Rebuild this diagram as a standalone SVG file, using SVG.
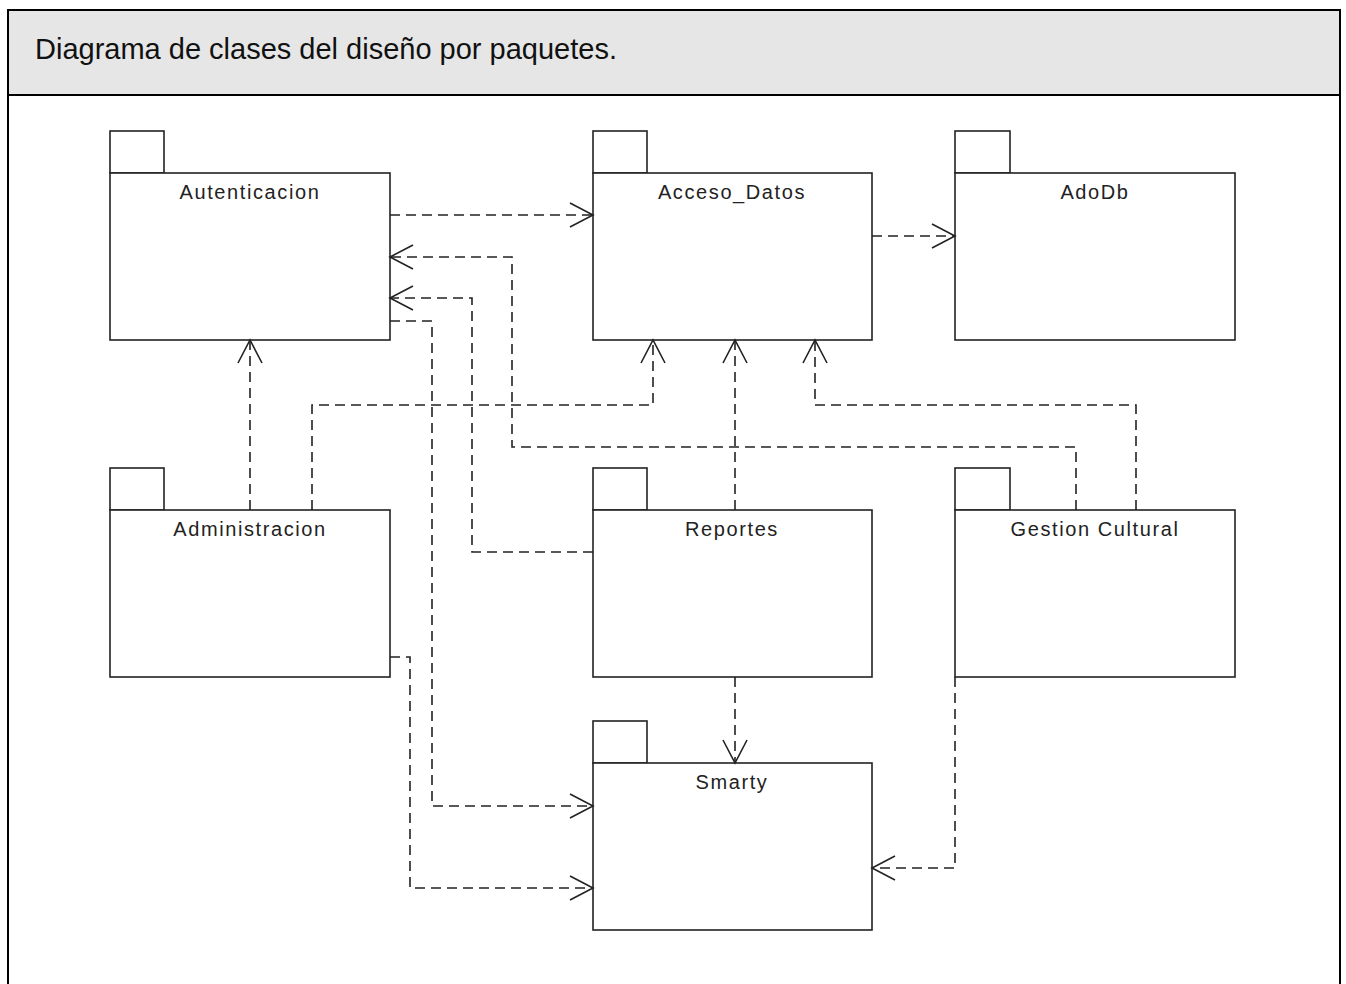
<svg xmlns="http://www.w3.org/2000/svg" width="1346" height="984" viewBox="0 0 1346 984">
  <style>
    .frame { fill: none; stroke: #000; stroke-width: 2; }
    .pkg { fill: #fff; stroke: #222; stroke-width: 1.6; }
    .label { font-family: "Liberation Sans", Arial, sans-serif; font-size: 20px; letter-spacing: 1.6px; fill: #222; text-anchor: middle; }
    .title { font-family: "Liberation Sans", Arial, sans-serif; font-size: 29px; fill: #111; }
    .dep { fill: none; stroke: #222; stroke-width: 1.6; stroke-dasharray: 10 6; marker-end: url(#open); }
  </style>
  <defs>
    <marker id="open" markerUnits="userSpaceOnUse" markerWidth="28" markerHeight="28" refX="24" refY="13" orient="auto">
      <path d="M1,1 L24,13 L1,25" fill="none" stroke="#222" stroke-width="1.6" stroke-dasharray="none"/>
    </marker>
  </defs>

  <rect width="1346" height="984" fill="#fff"/>

  <!-- header band with caption -->
  <g id="header">
    <rect x="8" y="10" width="1332" height="85" fill="#e6e6e6"/>
    <path class="frame" d="M8,984 V10 H1340 V984 M8,95 H1340"/>
    <text class="title" x="35" y="59">Diagrama de clases del diseño por paquetes.</text>
  </g>

  <!-- packages -->
  <g id="autenticacion">
    <rect class="pkg" x="110" y="131" width="54" height="42"/>
    <rect class="pkg" x="110" y="173" width="280" height="167"/>
    <text class="label" x="250" y="199">Autenticacion</text>
  </g>
  <g id="acceso_datos">
    <rect class="pkg" x="593" y="131" width="54" height="42"/>
    <rect class="pkg" x="593" y="173" width="279" height="167"/>
    <text class="label" x="732" y="199">Acceso_Datos</text>
  </g>
  <g id="adodb">
    <rect class="pkg" x="955" y="131" width="55" height="42"/>
    <rect class="pkg" x="955" y="173" width="280" height="167"/>
    <text class="label" x="1095" y="199">AdoDb</text>
  </g>
  <g id="administracion">
    <rect class="pkg" x="110" y="468" width="54" height="42"/>
    <rect class="pkg" x="110" y="510" width="280" height="167"/>
    <text class="label" x="250" y="536">Administracion</text>
  </g>
  <g id="reportes">
    <rect class="pkg" x="593" y="468" width="54" height="42"/>
    <rect class="pkg" x="593" y="510" width="279" height="167"/>
    <text class="label" x="732" y="536">Reportes</text>
  </g>
  <g id="gestion_cultural">
    <rect class="pkg" x="955" y="468" width="55" height="42"/>
    <rect class="pkg" x="955" y="510" width="280" height="167"/>
    <text class="label" x="1095" y="536">Gestion Cultural</text>
  </g>
  <g id="smarty">
    <rect class="pkg" x="593" y="721" width="54" height="42"/>
    <rect class="pkg" x="593" y="763" width="279" height="167"/>
    <text class="label" x="732" y="789">Smarty</text>
  </g>

  <!-- dependencies -->
  <g id="connectors">
    <polyline class="dep" points="390,215 593,215"/>
    <polyline class="dep" points="872,236 955,236"/>
    <polyline class="dep" points="250,510 250,340"/>
    <polyline class="dep" points="312,510 312,405 653,405 653,340"/>
    <polyline class="dep" points="735,510 735,340"/>
    <polyline class="dep" points="1136,510 1136,405 815,405 815,340"/>
    <polyline class="dep" points="1076,510 1076,447 512,447 512,257 390,257"/>
    <polyline class="dep" points="593,552 472,552 472,298 390,298"/>
    <polyline class="dep" points="390,321 432,321 432,806 593,806"/>
    <polyline class="dep" points="390,657 410,657 410,888 593,888"/>
    <polyline class="dep" points="735,677 735,763"/>
    <polyline class="dep" points="955,677 955,868 872,868"/>
  </g>
</svg>
